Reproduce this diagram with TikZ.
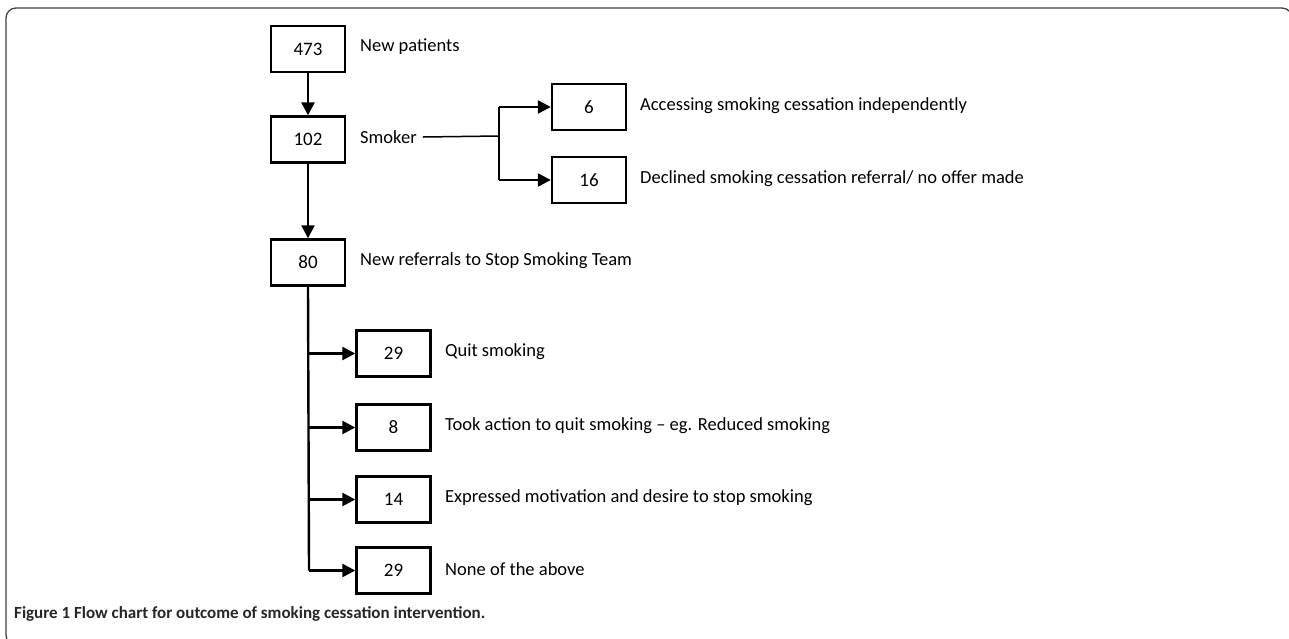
\documentclass[tikz,border=0pt]{standalone}
\usepackage{fontspec}
\setmainfont{Carlito}
\usetikzlibrary{arrows.meta}
\begin{document}
\begin{tikzpicture}[x=1pt,y=-1pt,
  numbox/.style={draw,line width=2.4pt,minimum width=74pt,minimum height=46pt,inner sep=0pt,font=\fontsize{19}{22}\selectfont},
  lbl/.style={anchor=west,inner sep=0pt,font=\fontsize{18.5}{22}\selectfont},
  arr/.style={line width=2.4pt,-{Triangle[length=13pt,width=13pt]}},
  thin/.style={line width=1.5pt},
  frame/.style={draw=black!75,line width=1.3pt,rounded corners=10pt}]
\useasboundingbox (0,0) rectangle (1289,638);
\clip (0,0) rectangle (1289,638);
\draw[frame] (6,8) rectangle (1292,645);
% main column
\node[numbox] (n473) at (308,49) {473};
\node[lbl] (t473) at (360,47) {New patients};
\node[numbox] (n102) at (308,139.5) {102};
\node[lbl] (t102) at (360,137) {Smoker};
\node[numbox] (n80) at (308,262.5) {80};
\node[lbl] (t80) at (360,261) {New referrals to Stop Smoking Team};
% smoker branches
\node[numbox] (n6) at (589,107) {6};
\node[lbl] (t6) at (640,106) {Accessing smoking cessation independently};
\node[numbox] (n16) at (589,180) {16};
\node[lbl] (t16) at (640,179) {Declined smoking cessation referral/ no offer made};
% referral outcomes
\node[numbox] (q29) at (393.5,353.5) {29};
\node[lbl] (tq29) at (445,352) {Quit smoking};
\node[numbox] (q8) at (393.5,427.5) {8};
\node[lbl] (tq8) at (445,426) {Took action to quit smoking -- eg. Reduced smoking};
\node[numbox] (q14) at (393.5,499.5) {14};
\node[lbl] (tq14) at (445,498) {Expressed motivation and desire to stop smoking};
\node[numbox] (q29b) at (393.5,570.5) {29};
\node[lbl] (tq29b) at (445,569) {None of the above};
% connectors
\draw[arr] (n473) -- (n102);
\draw[arr] (n102) -- (n80);
\coordinate (sj) at (499,136);
\draw[thin] (t102.east) ++(6,0) coordinate (ss) -- (sj);
\draw[line width=2.4pt] (499,107) -- (499,180);
\draw[arr] (499,107) -- (n6.west);
\draw[arr] (499,180) -- (n16.west);
\coordinate (rb) at (309,570.5);
\draw[line width=2.4pt] (n80.south) -- (rb);
\draw[arr] (309,353.5) -- (q29.west);
\draw[arr] (309,427.5) -- (q8.west);
\draw[arr] (309,499.5) -- (q14.west);
\draw[arr] (rb) -- (q29b.west);
% caption
\node[anchor=west,inner sep=0pt,font=\fontsize{17}{21}\selectfont\bfseries,text=black!85] (cap) at (14,614) {Figure 1 Flow chart for outcome of smoking cessation intervention.};
\end{tikzpicture}
\end{document}
